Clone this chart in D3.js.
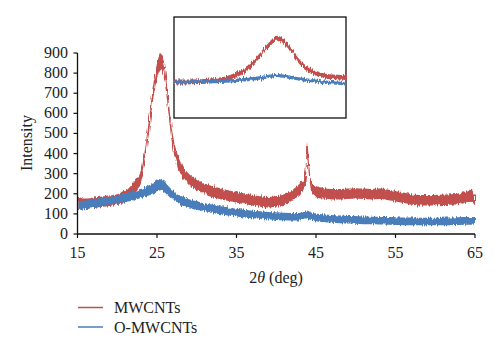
<!DOCTYPE html>
<html><head><meta charset="utf-8">
<script src="https://cdn.jsdelivr.net/npm/d3@7"></script>
</head>
<body style="margin:0;background:#fff"><svg id="c" width="500" height="355"></svg>
<script>
// ---- data ----
const theta = [15,16,17,18,19,20,21,22,22.5,23,23.5,24,24.5,25,25.5,26,26.4,26.8,27.2,27.6,28,28.5,29,30,31,32,33,34,35,36,37,38,39,40,41,42,42.6,43,43.4,43.7,43.9,44.1,44.4,44.8,45.5,46,47,48,49,50,51,52,53,54,55,56,57,58,59,60,61,62,63,64,64.5,65];
const mwcnt = [155,150,155,160,165,172,185,225,250,285,390,540,700,810,860,790,650,510,420,365,325,295,272,245,225,210,200,190,182,175,168,162,158,162,172,192,210,225,245,290,420,330,240,215,205,202,198,198,200,202,200,198,200,195,188,180,172,168,168,168,170,172,175,185,190,170];
const mwcntNoise = [32,26,26,26,26,26,27,28,29,30,32,34,36,38,40,38,36,34,32,30,29,28,28,27,27,27,27,26,26,26,26,26,26,26,26,26,27,27,28,32,48,32,28,27,27,26,26,26,26,26,26,26,26,26,26,26,26,26,26,26,26,26,26,27,30,28];
const omwcnt = [140,145,150,158,165,172,180,190,195,202,210,218,228,240,248,232,215,200,188,177,168,160,152,142,133,125,118,112,106,101,97,94,91,89,87,86,86,87,89,92,96,93,88,84,80,78,75,73,71,70,68,67,66,65,64,63,63,62,62,62,62,63,64,65,65,66];
const omwcntNoise = [22,21,21,21,21,21,21,22,22,22,23,24,25,27,30,27,25,24,23,22,22,21,21,21,20,20,20,20,19,19,19,19,19,19,19,19,19,19,19,20,21,20,19,19,19,19,19,19,19,19,19,19,19,19,19,19,19,19,19,19,19,19,19,19,19,19];
const yTicks = [0,100,200,300,400,500,600,700,800,900];
const xTicks = [15,25,35,45,55,65];
// inset (arbitrary units)
const insetX = [15,17,19,20,21,22,23,24,25,26,27,28,29,30,31,32,33,34,35];
const insetMW = [35.6,35.8,36.5,37.5,39,42,46,53,62,72,79,74,62,52,46,43,41,40.5,40];
const insetO = [35.6,35.8,36,36.2,36.5,37,37.8,38.6,39.6,41,42.2,41,39.5,38.2,37,36,35.2,34.5,33.8];
const seriesNames = ["MWCNTs","O-MWCNTs"];
const colors = ["#c0504d","#4a7ebb"];

const svg = d3.select("#c");
const defs = svg.append("defs");
const f = defs.append("filter").attr("id","noisy").attr("x","-5%").attr("y","-20%").attr("width","110%").attr("height","140%");
f.append("feTurbulence").attr("type","fractalNoise").attr("baseFrequency","0.9 0.08").attr("numOctaves",2).attr("seed",3).attr("result","n");
f.append("feDisplacementMap").attr("in","SourceGraphic").attr("in2","n").attr("scale",5).attr("xChannelSelector","R").attr("yChannelSelector","G");

const x = d3.scaleLinear().domain([15,65]).range([77.5,475]);
const y = d3.scaleLinear().domain([0,900]).range([234,53]);

function band(vals, noise, xs, ys) {
  return d3.area().x((d,i)=>xs(theta[i])).y0((d,i)=>ys(vals[i]-noise[i])).y1((d,i)=>ys(vals[i]+noise[i])).curve(d3.curveMonotoneX)(vals);
}
const g = svg.append("g").attr("filter","url(#noisy)");
g.append("path").attr("d", band(mwcnt, mwcntNoise, x, y)).attr("fill", colors[0]);
g.append("path").attr("d", band(omwcnt, omwcntNoise, x, y)).attr("fill", colors[1]);

function txt(sel) { return sel.append("text").attr("font-family", "Liberation Serif").attr("fill","#222"); }

// axes
const ax = svg.append("g");
ax.append("line").attr("x1",x(15)).attr("x2",x(65)).attr("y1",y(0)).attr("y2",y(0)).attr("stroke","#111").attr("stroke-width",1.3);
ax.append("line").attr("x1",x(15)).attr("x2",x(15)).attr("y1",y(0)).attr("y2",y(900)).attr("stroke","#111").attr("stroke-width",1.3);
yTicks.forEach(t=>{
  ax.append("line").attr("x1",x(15)-4).attr("x2",x(15)).attr("y1",y(t)).attr("y2",y(t)).attr("stroke","#111").attr("stroke-width",1.2);
  txt(ax).attr("x",68).attr("y",y(t)+5).attr("text-anchor","end").attr("font-size",16).text(t);
});
xTicks.forEach(t=>{
  ax.append("line").attr("x1",x(t)).attr("x2",x(t)).attr("y1",y(0)).attr("y2",y(0)+4).attr("stroke","#111").attr("stroke-width",1.2);
  txt(ax).attr("x",x(t)).attr("y",258).attr("text-anchor","middle").attr("font-size",16).text(t);
});
const xt = txt(svg).attr("x",276).attr("y",283).attr("text-anchor","middle").attr("font-size",16);
xt.append("tspan").text("2");
xt.append("tspan").attr("font-style","italic").text("θ");
xt.append("tspan").text(" (deg)");
txt(svg).attr("transform","translate(32,143) rotate(-90)").attr("text-anchor","middle").attr("font-size",16).text("Intensity");

// inset
const ix = d3.scaleLinear().domain([15,35]).range([174,346]);
const iy = d3.scaleLinear().domain([0,100]).range([118,17]);
svg.append("rect").attr("x",174).attr("y",17).attr("width",172).attr("height",101).attr("fill","#fff").attr("stroke","#111").attr("stroke-width",1.3);
const ig = svg.append("g").attr("filter","url(#noisy)");
function iband(vals, hw) {
  return d3.area().x((d,i)=>ix(insetX[i])).y0(d=>iy(d-hw)).y1(d=>iy(d+hw)).curve(d3.curveMonotoneX)(vals);
}
ig.append("path").attr("d", iband(insetMW, 2.4)).attr("fill", colors[0]);
ig.append("path").attr("d", iband(insetO, 1.7)).attr("fill", colors[1]);

// legend
seriesNames.forEach((s,i)=>{
  const yy = 307.5 + i*19.5;
  svg.append("line").attr("x1",78).attr("x2",103).attr("y1",yy).attr("y2",yy).attr("stroke",colors[i]).attr("stroke-width",1.5);
  txt(svg).attr("x",114).attr("y",yy+5.5).attr("font-size",16).text(s);
});
</script></body></html>
